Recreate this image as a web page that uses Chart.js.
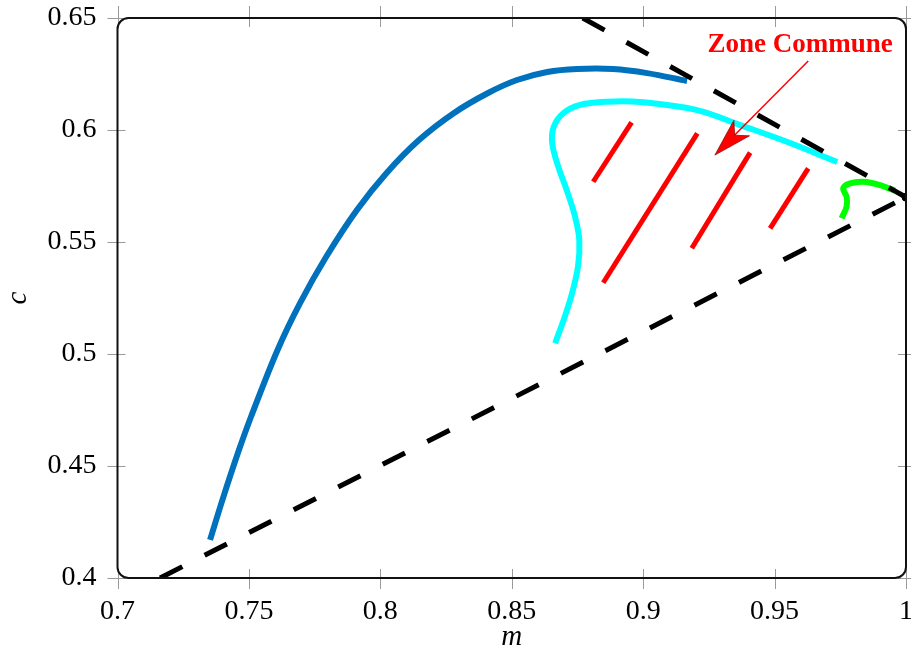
<!DOCTYPE html>
<html>
<head>
<meta charset="utf-8">
<script src="https://cdn.jsdelivr.net/npm/chart.js@4.4.1/dist/chart.umd.min.js"></script>
<style>
  html, body { margin: 0; padding: 0; background: #fff; }
  #wrap { width: 911px; height: 655px; }
</style>
</head>
<body>
<div id="wrap"><canvas id="c"></canvas></div>
<script>
// tick labels
const xTicks = [0.7, 0.75, 0.8, 0.85, 0.9, 0.95, 1];
const yTicks = [0.4, 0.45, 0.5, 0.55, 0.6, 0.65];

// dark blue curve
const blueM = [0.7352, 0.7399, 0.7462, 0.7508, 0.7609, 0.7694, 0.7794, 0.7911, 0.8023, 0.8147, 0.8279, 0.8408, 0.8520, 0.8635, 0.8749, 0.8885, 0.9015, 0.9167];
const blueC = [0.4170, 0.4348, 0.4571, 0.4720, 0.5018, 0.5226, 0.5434, 0.5643, 0.5807, 0.5955, 0.6075, 0.6164, 0.6223, 0.6259, 0.6272, 0.6272, 0.6254, 0.6219];

// cyan curve
const cyanM = [0.8665, 0.8693, 0.8726, 0.8752, 0.8757, 0.8741, 0.8709, 0.8677, 0.8654, 0.8660, 0.8696, 0.8760, 0.8861, 0.8988, 0.9205, 0.9369, 0.9559, 0.9738];
const cyanC = [0.5048, 0.5137, 0.5256, 0.5390, 0.5509, 0.5613, 0.5732, 0.5836, 0.5941, 0.6015, 0.6075, 0.6112, 0.6126, 0.6125, 0.6089, 0.6022, 0.5942, 0.5857];

// green curve
const greenM = [0.9755, 0.9774, 0.9774, 0.9761, 0.9787, 0.9838, 0.9901, 0.9958];
const greenC = [0.5606, 0.5658, 0.5702, 0.5740, 0.5762, 0.5769, 0.5754, 0.5729];

// dashed boundaries
const upperM = [0.877, 1.0];
const upperC = [0.65, 0.57];
const lowerM = [0.7162, 1.0];
const lowerC = [0.4, 0.57];

// red hatch segments [start, end]
const hatchM = [[0.8810, 0.8956], [0.8848, 0.9206], [0.9185, 0.9407], [0.9483, 0.9628]];
const hatchC = [[0.5769, 0.6034], [0.5318, 0.5985], [0.5472, 0.5899], [0.5561, 0.5829]];

// annotation
const noteText = "Zone Commune";
const noteAt = [0.9597, 0.6348];
const arrowFrom = [0.9628, 0.6308];
const arrowTo = [0.9273, 0.5888];

const pts = (xs, ys) => xs.map((x, i) => ({ x: x, y: ys[i] }));

const datasets = [
    { data: pts(upperM, upperC), borderColor: "#000", borderWidth: 5, borderDash: [25, 25], order: 0 },
    { data: pts(lowerM, lowerC), borderColor: "#000", borderWidth: 5, borderDash: [25, 25], order: 0 },
    { data: [{ x: 1.0, y: 0.57 }], borderColor: "#000", backgroundColor: "#000", pointRadius: 4, showLine: false, order: 0 },
    { data: pts(blueM, blueC), borderColor: "#0072BD", borderWidth: 6, tension: 0.35, order: 2 },
    { data: pts(cyanM, cyanC), borderColor: "#00FFFF", borderWidth: 6, tension: 0.35, order: 2 },
    { data: pts(greenM, greenC), borderColor: "#00FF00", borderWidth: 6, tension: 0.3, order: 2 },
];
for (let i = 0; i < hatchM.length; i++) {
    datasets.push({ data: pts(hatchM[i], hatchC[i]), borderColor: "#FF0000", borderWidth: 5, order: 1 });
}
datasets.forEach(d => {
    if (d.showLine === undefined) d.showLine = true;
    if (d.pointRadius === undefined) d.pointRadius = 0;
    d.borderCapStyle = "butt";
});

const serif = "'Liberation Serif', 'DejaVu Serif', serif";

const decor = {
    id: "decor",
    afterDatasetsDraw(chart) {
        const ctx = chart.ctx;
        const xs = chart.scales.x, ys = chart.scales.y;
        // arrow
        const x0 = xs.getPixelForValue(arrowFrom[0]), y0 = ys.getPixelForValue(arrowFrom[1]);
        const x1 = xs.getPixelForValue(arrowTo[0]), y1 = ys.getPixelForValue(arrowTo[1]);
        const len = Math.hypot(x1 - x0, y1 - y0);
        const ux = (x1 - x0) / len, uy = (y1 - y0) / len;
        const px = -uy, py = ux;
        ctx.save();
        ctx.strokeStyle = "#FF0000";
        ctx.lineWidth = 1.5;
        ctx.beginPath();
        ctx.moveTo(x0, y0);
        ctx.lineTo(x1 - ux * 25, y1 - uy * 25);
        ctx.stroke();
        ctx.fillStyle = "#FF0000";
        ctx.strokeStyle = "#8a1010";
        ctx.lineWidth = 0.8;
        ctx.beginPath();
        ctx.moveTo(x1, y1);
        ctx.lineTo(x1 - ux * 38 + px * 11, y1 - uy * 38 + py * 11);
        ctx.lineTo(x1 - ux * 28, y1 - uy * 28);
        ctx.lineTo(x1 - ux * 38 - px * 11, y1 - uy * 38 - py * 11);
        ctx.closePath();
        ctx.fill();
        ctx.stroke();
        // label
        ctx.fillStyle = "#FF0000";
        ctx.font = "bold 27px " + serif;
        ctx.textAlign = "center";
        ctx.textBaseline = "alphabetic";
        ctx.fillText(noteText, xs.getPixelForValue(noteAt[0]), ys.getPixelForValue(noteAt[1]));
        ctx.restore();
    },
    afterDraw(chart) {
        const ctx = chart.ctx;
        const a = chart.chartArea;
        const xs = chart.scales.x, ys = chart.scales.y;
        ctx.save();
        // tick marks, mirrored on all four sides
        ctx.strokeStyle = "#9a9a9a";
        ctx.lineWidth = 1;
        ctx.beginPath();
        xTicks.forEach(v => {
            const p = Math.round(xs.getPixelForValue(v)) + 0.5;
            ctx.moveTo(p, a.bottom - 9); ctx.lineTo(p, a.bottom + 11);
            ctx.moveTo(p, a.top - 12); ctx.lineTo(p, a.top + 9);
        });
        yTicks.forEach(v => {
            const p = Math.round(ys.getPixelForValue(v)) + 0.5;
            ctx.moveTo(a.left - 10, p); ctx.lineTo(a.left + 8, p);
            ctx.moveTo(a.right - 8, p); ctx.lineTo(a.right + 10, p);
        });
        ctx.stroke();
        // rounded frame
        ctx.strokeStyle = "#111";
        ctx.lineWidth = 2;
        ctx.beginPath();
        ctx.roundRect(a.left, a.top, a.right - a.left, a.bottom - a.top, 11);
        ctx.stroke();
        ctx.restore();
    }
};

new Chart(document.getElementById("c"), {
    type: "scatter",
    data: { datasets: datasets },
    options: {
        responsive: true,
        maintainAspectRatio: false,
        animation: false,
        layout: { padding: { top: 18, right: 5, left: 0, bottom: 0 } },
        plugins: { legend: { display: false }, tooltip: { enabled: false } },
        scales: {
            x: {
                type: "linear",
                min: 0.7,
                max: 1,
                afterBuildTicks: s => { s.ticks = xTicks.map(v => ({ value: v })); },
                afterFit: s => { s.height = 77; s.paddingLeft = 0; s.paddingRight = 0; },
                ticks: {
                    color: "#000",
                    padding: 17,
                    maxRotation: 0,
                    font: { family: serif, size: 28 },
                    callback: v => String(v),
                },
                grid: { display: false, drawTicks: false },
                border: { display: false },
                title: {
                    display: true,
                    text: "m",
                    color: "#000",
                    padding: { top: 0, bottom: 0 },
                    font: { family: serif, size: 29, style: "italic" },
                },
            },
            y: {
                type: "linear",
                min: 0.4,
                max: 0.65,
                afterBuildTicks: s => { s.ticks = yTicks.map(v => ({ value: v })); },
                afterFit: s => { s.width = 117.5; s.paddingTop = 0; s.paddingBottom = 0; },
                ticks: {
                    color: "#000",
                    padding: 21,
                    font: { family: serif, size: 28 },
                    callback: v => String(v),
                },
                grid: { display: false, drawTicks: false },
                border: { display: false },
                title: {
                    display: true,
                    text: "c",
                    color: "#000",
                    padding: { top: 1, bottom: 0 },
                    font: { family: serif, size: 29, style: "italic" },
                },
            },
        },
    },
    plugins: [decor],
});
</script>
</body>
</html>
